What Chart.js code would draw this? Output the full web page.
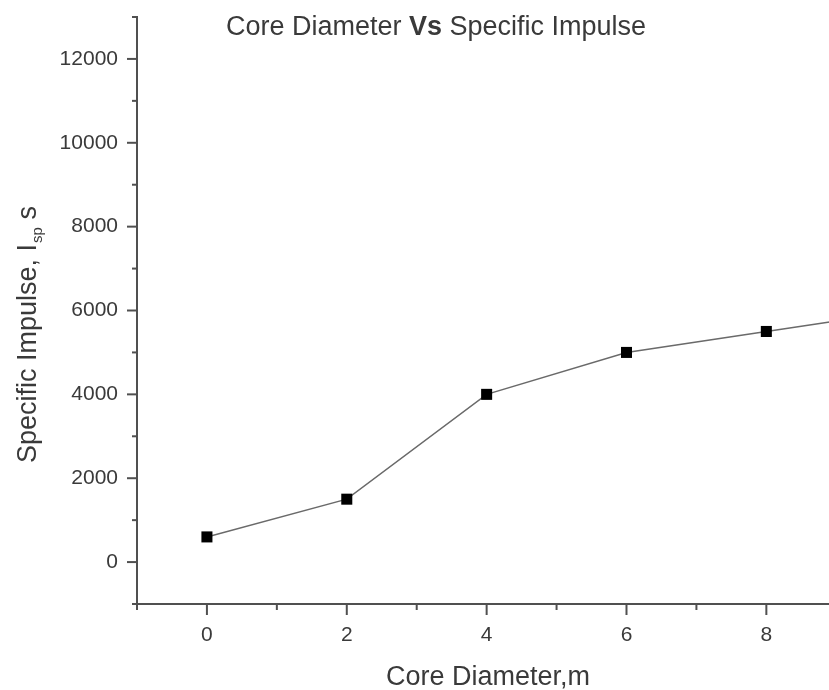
<!DOCTYPE html>
<html>
<head>
<meta charset="utf-8">
<script src="https://cdn.jsdelivr.net/npm/chart.js@4.4.1/dist/chart.umd.min.js"></script>
<style>
  html, body { margin: 0; padding: 0; background: #fff; overflow: hidden; width: 829px; height: 690px; }
  #wrap { position: relative; width: 914px; height: 690px; }
</style>
</head>
<body>
<div id="wrap"><canvas id="c"></canvas></div>
<script>
// ---- data ----
const coreDiameter = [0, 2, 4, 6, 8, 10];
const specificImpulse = [600, 1500, 4000, 5000, 5500, 6000];
const xTickLabels = ['0', '2', '4', '6', '8'];
const yTickLabels = ['0', '2000', '4000', '6000', '8000', '10000', '12000'];
const chartTitleParts = [['Core Diameter ', false], ['Vs', true], [' Specific Impulse', false]];
const xTitle = 'Core Diameter,m';
const yTitleMain = 'Specific Impulse, I';
const yTitleSub = 'sp';
const yTitleEnd = ' s';

const FONT = '"Liberation Sans", Arial, sans-serif';
const AXIS = '#505050';
const TEXT = '#3a3a3a';

const customDraw = {
  id: 'customDraw',
  afterDraw(chart) {
    const ctx = chart.ctx;
    const ca = chart.chartArea;
    const xs = chart.scales.x, ys = chart.scales.y;
    ctx.save();
    ctx.strokeStyle = AXIS;
    ctx.lineWidth = 2;
    // x ticks
    xs.ticks.forEach(t => {
      const px = xs.getPixelForValue(t.value);
      if (px > chart.width + 2) return;
      const len = (t.value % 2 === 0) ? 11 : 6;
      ctx.beginPath(); ctx.moveTo(px, ca.bottom); ctx.lineTo(px, ca.bottom + len); ctx.stroke();
    });
    // y ticks
    ys.ticks.forEach(t => {
      const py = ys.getPixelForValue(t.value);
      const len = (t.value % 2000 === 0) ? 10 : 5;
      ctx.beginPath(); ctx.moveTo(ca.left, py); ctx.lineTo(ca.left - len, py); ctx.stroke();
    });
    ctx.fillStyle = TEXT;
    // title
    ctx.textBaseline = 'alphabetic';
    ctx.textAlign = 'left';
    let total = 0;
    chartTitleParts.forEach(([s, b]) => { ctx.font = (b ? 'bold ' : '') + '27px ' + FONT; total += ctx.measureText(s).width; });
    let x = 436 - total / 2;
    chartTitleParts.forEach(([s, b]) => { ctx.font = (b ? 'bold ' : '') + '27px ' + FONT; ctx.fillText(s, x, 35); x += ctx.measureText(s).width; });
    // x title
    ctx.font = '27px ' + FONT;
    ctx.textAlign = 'center';
    ctx.fillText(xTitle, 488, 685);
    // y title
    ctx.textAlign = 'left';
    ctx.font = '27px ' + FONT;
    const w1 = ctx.measureText(yTitleMain).width;
    const w3 = ctx.measureText(yTitleEnd).width;
    ctx.font = '15px ' + FONT;
    const w2 = ctx.measureText(yTitleSub).width;
    const tw = w1 + w2 + w3;
    ctx.translate(36, 335 + tw / 2);
    ctx.rotate(-Math.PI / 2);
    ctx.font = '27px ' + FONT;
    ctx.fillText(yTitleMain, 0, 0);
    ctx.font = '15px ' + FONT;
    ctx.fillText(yTitleSub, w1 + 1, 6);
    ctx.font = '27px ' + FONT;
    ctx.fillText(yTitleEnd, w1 + w2 + 1, 0);
    ctx.restore();
  }
};

new Chart(document.getElementById('c'), {
  type: 'line',
  data: {
    datasets: [{
      data: coreDiameter.map((x, i) => ({ x: x, y: specificImpulse[i] })),
      borderColor: '#6a6a6a',
      borderWidth: 1.5,
      pointStyle: 'rect',
      pointRadius: 7.8,
      pointBackgroundColor: '#000',
      pointBorderColor: '#000',
      pointBorderWidth: 0,
      tension: 0,
      clip: false
    }]
  },
  options: {
    responsive: true,
    maintainAspectRatio: false,
    animation: false,
    layout: { padding: { top: 17, left: 0, right: 0, bottom: 0 } },
    plugins: { legend: { display: false }, tooltip: { enabled: false }, title: { display: false } },
    scales: {
      x: {
        type: 'linear',
        min: -1, max: 10,
        afterFit(s) { s.height = 86; s.paddingLeft = 0; s.paddingRight = 0; },
        ticks: {
          stepSize: 1,
          autoSkip: false,
          maxRotation: 0,
          padding: 8,
          color: TEXT,
          font: { family: FONT, size: 21 },
          callback: v => xTickLabels.includes(String(v)) ? String(v) : ''
        },
        grid: { display: true, drawOnChartArea: false, drawTicks: true, tickLength: 11, tickColor: 'rgba(0,0,0,0)' },
        border: { display: true, color: AXIS, width: 2 }
      },
      y: {
        type: 'linear',
        min: -1000, max: 13000,
        afterFit(s) { s.width = 137; s.paddingTop = 0; s.paddingBottom = 0; },
        ticks: {
          stepSize: 1000,
          autoSkip: false,
          padding: 9,
          color: TEXT,
          font: { family: FONT, size: 21 },
          callback: v => yTickLabels.includes(String(v)) ? String(v) : ''
        },
        grid: { display: true, drawOnChartArea: false, drawTicks: true, tickLength: 10, tickColor: 'rgba(0,0,0,0)' },
        border: { display: true, color: AXIS, width: 2 }
      }
    }
  },
  plugins: [customDraw]
});
</script>
</body>
</html>
